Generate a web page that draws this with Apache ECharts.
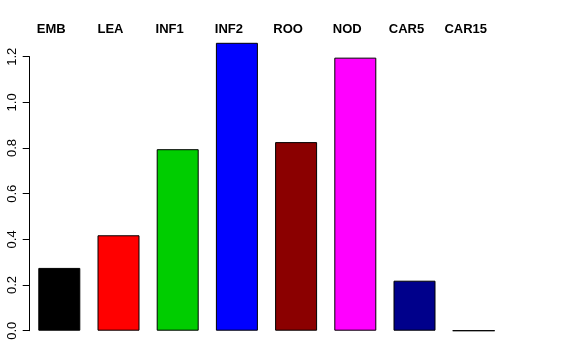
<!DOCTYPE html>
<html><head><meta charset="utf-8">
<script src="https://cdn.jsdelivr.net/npm/echarts@6/dist/echarts.min.js"></script>
<style>html,body{margin:0;padding:0;background:#fff}#c{width:576px;height:360px}</style>
</head><body><div id="c"></div>
<script>
const categories = ["EMB","LEA","INF1","INF2","ROO","NOD","CAR5","CAR15"];
const values = [0.275, 0.418, 0.795, 1.261, 0.826, 1.196, 0.219, 0];
const barColors = ["#000000","#FF0000","#00CD00","#0000FF","#8B0000","#FF00FF","#00008B","#BEBEBE"];
const yTicks = [0, 0.2, 0.4, 0.6, 0.8, 1.0, 1.2];

const chart = echarts.init(document.getElementById('c'), null, {renderer:'canvas'});
const font = "'Liberation Sans', Arial, Helvetica, sans-serif";
chart.setOption({
  animation:false,
  backgroundColor:'#fff',
  grid:[
    {left:29.7, width:473.6, top:33.9, bottom:29.3},
    {left:29.7, width:10, top:56.7, bottom:29.3}
  ],
  xAxis:[
    {type:'category', gridIndex:0, position:'top', data:categories,
     axisLine:{show:false}, axisTick:{show:false},
     axisLabel:{fontFamily:font, fontWeight:'bold', fontSize:13, color:'#000', margin:-2, padding:[0,16,0,0]}},
    {type:'value', gridIndex:1, show:false}
  ],
  yAxis:[
    {type:'value', gridIndex:0, min:0, max:1.3, show:false},
    {type:'value', gridIndex:1, min:yTicks[0], max:yTicks[yTicks.length-1], interval:0.2,
     axisLine:{show:true, lineStyle:{color:'#000', width:1}},
     axisTick:{show:true, length:7, lineStyle:{color:'#000'}},
     splitLine:{show:false},
     axisLabel:{rotate:90, fontFamily:font, fontSize:13, color:'#000', margin:11,
       formatter:v=>v.toFixed(1)}}
  ],
  series:[{
    type:'bar', xAxisIndex:0, yAxisIndex:0, barWidth:42,
    data: values.map((v,i)=>({value:v, itemStyle:{color:barColors[i]}})),
    itemStyle:{borderColor:'#000', borderWidth:1}
  }]
});
</script></body></html>
